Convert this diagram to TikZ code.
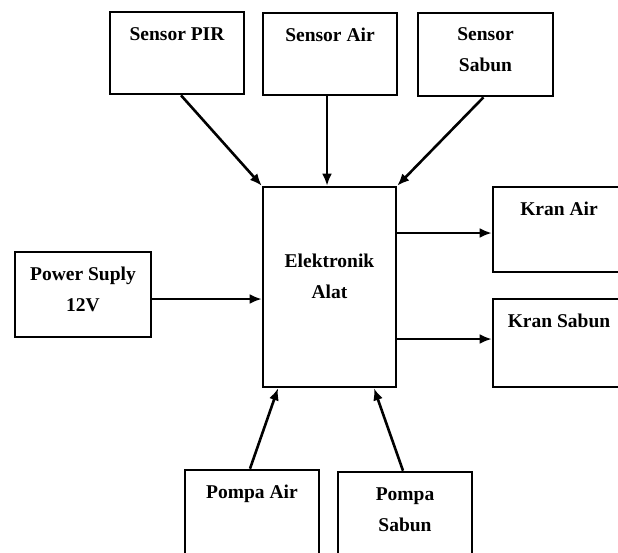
\documentclass[tikz,border=0pt]{standalone}
\usepackage{fontspec}
\setmainfont{Liberation Serif}
\usetikzlibrary{arrows.meta,positioning}

\begin{document}
\begin{tikzpicture}[x=1pt, y=-1pt, >={Latex[length=12pt,width=10pt]},
		blk/.style={draw, line width=2.6pt, inner sep=0pt, minimum width=134pt},
		txt/.style={inner sep=0pt, align=center, font=\fontsize{19.5}{31}\selectfont\bfseries},
		arr/.style={->, line width=2.6pt}]
	\useasboundingbox (0,0) rectangle (618,552);
	\clip (0,0) rectangle (618,552);

	% Blok
	\node[blk, minimum height=82pt] (pir) at (177,53) {};
	\node[blk, minimum height=82pt] (air) at (330,54) {};
	\node[blk, minimum width=135pt, minimum height=83pt] (sabun) at (485.5,54.5) {};
	\node[blk, minimum width=133pt, minimum height=200pt] (elek) at (329.5,287) {};
	\node[blk, minimum width=136pt, minimum height=85pt] (power) at (83,294.5) {};
	\node[blk, minimum width=132pt, minimum height=85pt] (kranair) at (559,229.5) {};
	\node[blk, minimum width=132pt, minimum height=88pt] (kransabun) at (559,343) {};
	\node[blk, minimum height=90pt] (pompaair) at (252,515) {};
	\node[blk, minimum height=90pt] (pompasabun) at (405,517) {};

	% Teks
	\node[txt, below=17pt of pir.north] (pirT) {Sensor PIR};
	\node[txt, below=16pt of air.north] (airT) {Sensor Air};
	\node[txt, below=16pt of sabun.north] (sabunT) {Sensor\\Sabun};
	\node[txt, below=68pt of elek.north] (elekT) {Elektronik\\Alat};
	\node[txt, below=16.5pt of power.north] (powerT) {Power Suply\\12V};
	\node[txt, below=16.5pt of kranair.north] (kranairT) {Kran Air};
	\node[txt, below=16pt of kransabun.north] (kransabunT) {Kran Sabun};
	\node[txt, below=16.5pt of pompaair.north] (pompaairT) {Pompa Air};
	\node[txt, below=16.5pt of pompasabun.north] (pompasabunT) {Pompa\\Sabun};

	% Panah
	\draw[arr] ([xshift=4pt]pir.south) -- (elek.north west);
	\draw[arr] ([xshift=-3pt]air.south) -- ([xshift=-3pt]air.south |- elek.north);
	\draw[arr] ([xshift=-2pt]sabun.south) -- (elek.north east);
	\coordinate (pw) at ([yshift=-4.5pt]power.east);
	\draw[arr] (pw) -- (pw -| elek.west);
	\coordinate (ka) at ([yshift=-3.5pt]kranair.west);
	\draw[arr] (ka -| elek.east) -- (ka);
	\coordinate (ks) at ([yshift=4pt]kransabun.west);
	\draw[arr] (ks -| elek.east) -- (ks);
	\draw[arr] ([xshift=-2pt]pompaair.north) -- ([xshift=-51.5pt]elek.south);
	\draw[arr] ([xshift=-2pt]pompasabun.north) -- ([xshift=44.5pt]elek.south);
\end{tikzpicture}
\end{document}
